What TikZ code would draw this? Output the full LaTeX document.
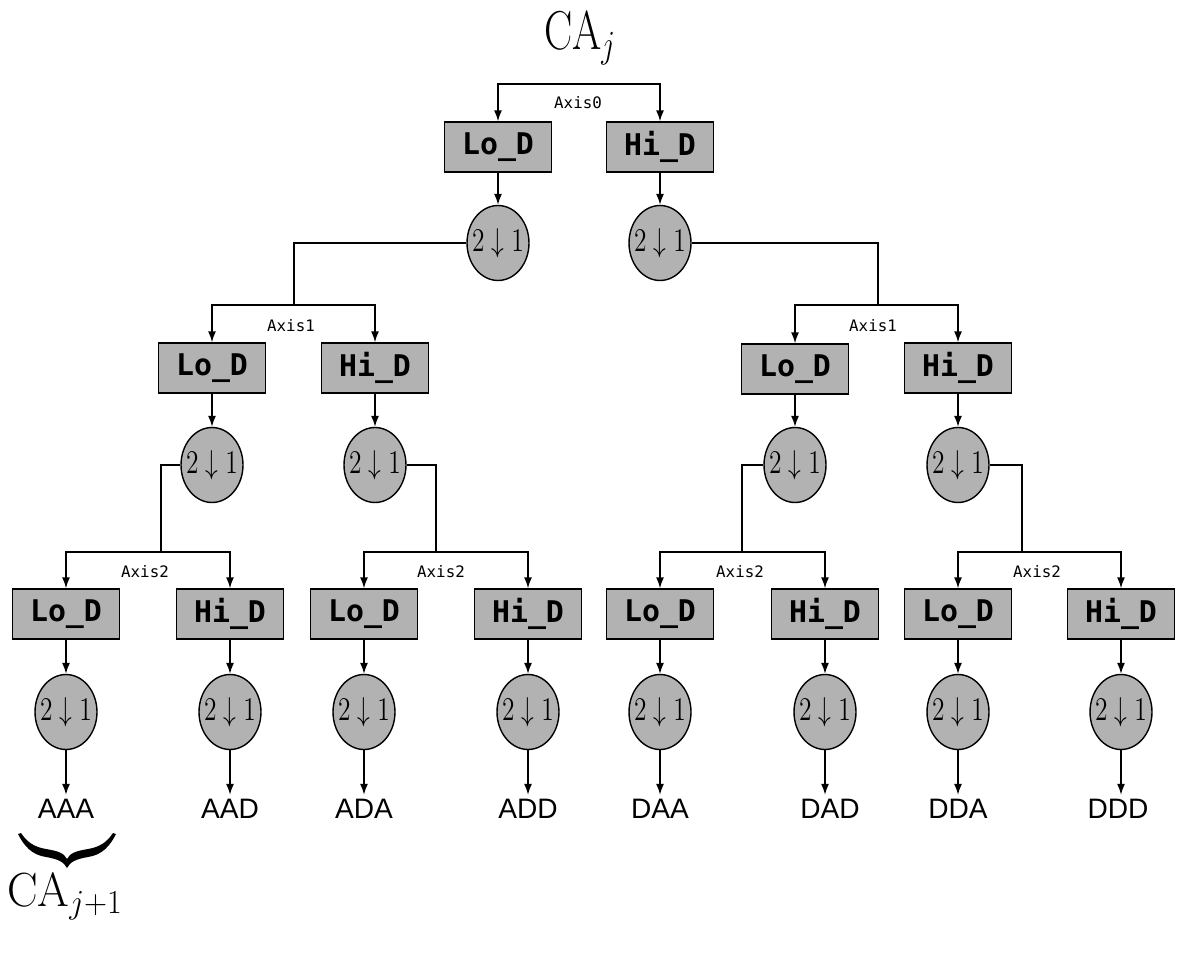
\documentclass[tikz,border=0pt]{standalone}
\usepackage{fix-cm}
\usepackage{fontspec}
\usepackage{graphicx}
\usepackage{amsmath}
\usetikzlibrary{shapes.geometric, arrows.meta, positioning, calc}
\newfontfamily\codefont{DejaVu Sans Mono}
\newfontfamily\leaffont{Liberation Sans}
\newcommand{\dsamp}{\makebox[0pt]{\scalebox{1}[1.3]{$2\downarrow1$}}}
\tikzset{
    filt/.style={draw=black, thick, fill=black!30, minimum width=2.14cm, minimum height=1cm, inner sep=0pt, font=\codefont\bfseries\fontsize{17}{20}\selectfont},
    down/.style={ellipse, draw=black, thick, fill=black!30, minimum width=1.24cm, minimum height=1.5cm, inner sep=0pt, font=\fontsize{14.5}{17}\selectfont},
    axis/.style={font=\codefont\fontsize{9}{11}\selectfont, inner sep=1pt},
    leaf/.style={font=\leaffont\fontsize{16}{18}\selectfont, inner sep=2pt},
    arrow/.style={-{Latex[length=2.2mm, width=1.6mm]}, thick},
    wire/.style={thick}
}
\begin{document}
\begin{tikzpicture}[x=0.02cm, y=-0.02cm]
    \useasboundingbox (0,0) rectangle (1185,956);
    % input
    \node (caj) at (580,38) {\scalebox{1}[1.3]{\fontsize{24}{28}\selectfont$\mathrm{CA}_j$}};
    % level 0
    \coordinate (b0) at (580,84);
    \node [filt] (l0lo) at (498,147) {Lo\_D};
    \node [filt] (l0hi) at (660,147) {Hi\_D};
    \node [axis] (ax0) at (578,103) {Axis0};
    \node [down] (d0lo) at (498,243) {\dsamp};
    \node [down] (d0hi) at (660,243) {\dsamp};
    \draw [arrow] (b0) -| (l0lo);
    \draw [arrow] (b0) -| (l0hi);
    \draw [arrow] (l0lo) -- (d0lo);
    \draw [arrow] (l0hi) -- (d0hi);
    % level 1
    \coordinate (b1a) at (294,305);
    \coordinate (b1b) at (878,305);
    \node [filt] (l1a) at (212,368) {Lo\_D};
    \node [filt] (l1b) at (375,368) {Hi\_D};
    \node [filt] (l1c) at (795,369) {Lo\_D};
    \node [filt] (l1d) at (958,368) {Hi\_D};
    \node [axis] (ax1a) at (291,326) {Axis1};
    \node [axis] (ax1b) at (873,326) {Axis1};
    \node [down] (d1a) at (212,465) {\dsamp};
    \node [down] (d1b) at (375,465) {\dsamp};
    \node [down] (d1c) at (795,465) {\dsamp};
    \node [down] (d1d) at (958,465) {\dsamp};
    \draw [wire] (d0lo.west) -| (b1a);
    \draw [wire] (d0hi.east) -| (b1b);
    \draw [arrow] (b1a) -| (l1a);
    \draw [arrow] (b1a) -| (l1b);
    \draw [arrow] (b1b) -| (l1c);
    \draw [arrow] (b1b) -| (l1d);
    \draw [arrow] (l1a) -- (d1a);
    \draw [arrow] (l1b) -- (d1b);
    \draw [arrow] (l1c) -- (d1c);
    \draw [arrow] (l1d) -- (d1d);
    % level 2
    \coordinate (b2a) at (161,552);
    \coordinate (b2b) at (436,552);
    \coordinate (b2c) at (742,552);
    \coordinate (b2d) at (1022,552);
    \node [filt] (l2a) at (66,614) {Lo\_D};
    \node [filt] (l2b) at (230,614) {Hi\_D};
    \node [filt] (l2c) at (364,614) {Lo\_D};
    \node [filt] (l2d) at (528,614) {Hi\_D};
    \node [filt] (l2e) at (660,614) {Lo\_D};
    \node [filt] (l2f) at (825,614) {Hi\_D};
    \node [filt] (l2g) at (958,614) {Lo\_D};
    \node [filt] (l2h) at (1121,614) {Hi\_D};
    \node [axis] (ax2a) at (145,572) {Axis2};
    \node [axis] (ax2b) at (441,572) {Axis2};
    \node [axis] (ax2c) at (740,572) {Axis2};
    \node [axis] (ax2d) at (1037,572) {Axis2};
    \node [down] (d2a) at (66,712) {\dsamp};
    \node [down] (d2b) at (230,712) {\dsamp};
    \node [down] (d2c) at (364,712) {\dsamp};
    \node [down] (d2d) at (528,712) {\dsamp};
    \node [down] (d2e) at (660,712) {\dsamp};
    \node [down] (d2f) at (825,712) {\dsamp};
    \node [down] (d2g) at (958,712) {\dsamp};
    \node [down] (d2h) at (1121,712) {\dsamp};
    \draw [wire] (d1a.west) -| (b2a);
    \draw [wire] (d1b.east) -| (b2b);
    \draw [wire] (d1c.west) -| (b2c);
    \draw [wire] (d1d.east) -| (b2d);
    \draw [arrow] (b2a) -| (l2a);
    \draw [arrow] (b2a) -| (l2b);
    \draw [arrow] (b2b) -| (l2c);
    \draw [arrow] (b2b) -| (l2d);
    \draw [arrow] (b2c) -| (l2e);
    \draw [arrow] (b2c) -| (l2f);
    \draw [arrow] (b2d) -| (l2g);
    \draw [arrow] (b2d) -| (l2h);
    \draw [arrow] (l2a) -- (d2a);
    \draw [arrow] (l2b) -- (d2b);
    \draw [arrow] (l2c) -- (d2c);
    \draw [arrow] (l2d) -- (d2d);
    \draw [arrow] (l2e) -- (d2e);
    \draw [arrow] (l2f) -- (d2f);
    \draw [arrow] (l2g) -- (d2g);
    \draw [arrow] (l2h) -- (d2h);
    % outputs
    \node [leaf, anchor=base] (aaa) at (66,818) {AAA};
    \node [leaf, anchor=base] (aad) at (230,818) {AAD};
    \node [leaf, anchor=base] (ada) at (364,818) {ADA};
    \node [leaf, anchor=base] (add) at (528,818) {ADD};
    \node [leaf, anchor=base] (daa) at (660,818) {DAA};
    \node [leaf, anchor=base] (dad) at (830,818) {DAD};
    \node [leaf, anchor=base] (dda) at (958,818) {DDA};
    \node [leaf, anchor=base] (ddd) at (1118,818) {DDD};
    \draw [arrow] (d2a) -- (d2a |- aaa.north);
    \draw [arrow] (d2b) -- (d2b |- aad.north);
    \draw [arrow] (d2c) -- (d2c |- ada.north);
    \draw [arrow] (d2d) -- (d2d |- add.north);
    \draw [arrow] (d2e) -- (d2e |- daa.north);
    \draw [arrow] (d2f) -- (d2f |- dad.north);
    \draw [arrow] (d2g) -- (d2g |- dda.north);
    \draw [arrow] (d2h) -- (d2h |- ddd.north);
    % next level: brace under AAA
    \fill (18,834) .. controls (24,846) and (32,855) .. (46,857)
        .. controls (58,859) and (64,862) .. (67,868)
        .. controls (70,862) and (76,859) .. (88,857)
        .. controls (102,855) and (110,846) .. (116,834)
        -- (113,833) .. controls (107,842) and (100,847) .. (88,849)
        .. controls (76,851) and (70,853) .. (67,859)
        .. controls (64,853) and (58,851) .. (46,849)
        .. controls (34,847) and (27,842) .. (21,833) -- cycle;
    \node (caj1) at (65,896) {\scalebox{1}[1.05]{\fontsize{26}{30}\selectfont$\mathrm{CA}_{j+1}$}};
\end{tikzpicture}
\end{document}
